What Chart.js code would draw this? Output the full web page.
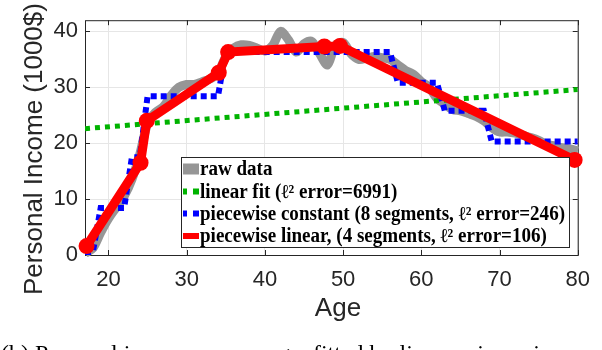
<!DOCTYPE html>
<html>
<head>
<meta charset="utf-8">
<script src="https://cdn.jsdelivr.net/npm/chart.js@4.4.0/dist/chart.umd.min.js"></script>
<style>
html, body { margin: 0; padding: 0; background: #fff; }
</style>
</head>
<body>
<canvas id="myChart" width="602" height="350"></canvas>
<script>
// donnees
const ages = [17, 18, 19, 20, 21, 22, 23, 24, 25, 26, 27, 28, 29, 30, 31, 32,
  33, 34, 35, 36, 37, 38, 39, 40, 41, 42, 43, 44, 45, 46, 47, 48,
  49, 50, 51, 52, 53, 54, 55, 56, 57, 58, 59, 60, 61, 62, 63, 64,
  65, 66, 67, 68, 69, 70, 71, 72, 73, 74, 75, 76, 77, 78, 79, 80];
const rawIncome = [0.3, 1.2, 4.0, 6.5, 8.5, 10.5, 13.5, 18.0, 23.5, 25.5, 26.5, 28.5, 30.0, 30.5, 30.5, 31.0,
  31.5, 32.5, 35.5, 37.0, 37.6, 37.5, 37.0, 36.5, 37.5, 40.0, 38.5, 36.3, 37.8, 38.2, 36.0, 34.0,
  37.5, 38.0, 36.0, 35.0, 35.2, 35.5, 35.3, 35.0, 34.0, 33.0, 32.3, 31.0, 30.0, 28.0, 27.0, 26.0,
  25.8, 25.3, 24.8, 24.0, 22.8, 22.0, 22.0, 21.8, 21.4, 21.0, 20.5, 19.8, 19.5, 19.2, 19.0, 18.6];
const constIncome = [0.5, 0.5, 8.4, 8.4, 8.4, 8.4, 17.5, 17.5, 28.4, 28.4, 28.4, 28.4, 28.4, 28.4, 28.4, 28.4,
  28.4, 28.4, 36.3, 36.3, 36.3, 36.3, 36.3, 36.3, 36.3, 36.3, 36.3, 36.3, 36.3, 36.3, 36.3, 36.3,
  36.3, 36.3, 36.3, 36.3, 36.3, 36.3, 36.3, 36.3, 30.8, 30.8, 30.8, 30.8, 30.8, 30.8, 25.8, 25.8,
  25.8, 25.8, 25.8, 25.8, 20.3, 20.3, 20.3, 20.3, 20.3, 20.3, 20.3, 20.3, 20.3, 20.3, 20.3, 20.3];
const fitAge = [17, 80];
const fitIncome = [22.6, 29.6];
const pwlAge = [17.2, 24.1, 24.9, 34.1, 35.3, 47.6, 49.6, 79.6];
const pwlIncome = [1.6, 16.5, 24.0, 32.6, 36.3, 37.3, 37.4, 17.0];

const xTicks = [20, 30, 40, 50, 60, 70, 80];
const yTicks = [0, 10, 20, 30, 40];

const legendLabels = [
  "raw data",
  "linear fit (\u2113\u00b2 error=6991)",
  "piecewise constant (8 segments, \u2113\u00b2 error=246)",
  "piecewise linear, (4 segments, \u2113\u00b2 error=106)"
];
const caption = "(b) Personal income versus age, fitted by linear, piecewise constant and piecewise linear models";

const ink = '#262626';
const toXY = (xs, ys) => xs.map((v, i) => ({x: v, y: ys[i]}));

// cadre, graduations interieures
const frame = {
  id: 'frame',
  beforeDatasetsDraw(chart) {
    const {ctx, chartArea: a, scales: {x, y}} = chart;
    ctx.save();
    ctx.strokeStyle = ink;
    ctx.lineWidth = 1;
    ctx.strokeRect(a.left + 0.5, a.top + 0.5, a.right - a.left, a.bottom - a.top);
    ctx.beginPath();
    xTicks.forEach(v => {
      const px = Math.round(x.getPixelForValue(v)) + 0.5;
      ctx.moveTo(px, a.bottom); ctx.lineTo(px, a.bottom - 5);
      ctx.moveTo(px, a.top); ctx.lineTo(px, a.top + 5);
    });
    yTicks.forEach(v => {
      const py = Math.round(y.getPixelForValue(v)) + 0.5;
      ctx.moveTo(a.left, py); ctx.lineTo(a.left + 5, py);
      ctx.moveTo(a.right, py); ctx.lineTo(a.right - 5, py);
    });
    ctx.stroke();
    ctx.restore();
  },
  afterDatasetsDraw(chart) {
    const {ctx} = chart;
    ctx.save();

    // legende
    ctx.fillStyle = '#fff';
    ctx.fillRect(181, 157, 388, 90);
    ctx.strokeStyle = ink;
    ctx.lineWidth = 1;
    ctx.strokeRect(181.5, 157.5, 388, 90);

    ctx.font = 'bold 20px "Liberation Serif", serif';
    const w = ctx.measureText(legendLabels[2]).width;
    const sx = 365 / w;
    const rows = [169, 191.5, 213.5, 236];
    rows.forEach((cy, i) => {
      if (i === 0) {
        ctx.fillStyle = '#969696';
        ctx.fillRect(183, cy - 5.5, 16, 11);
      } else if (i === 3) {
        ctx.fillStyle = '#ff0000';
        ctx.fillRect(183, cy - 3, 16, 6);
      } else {
        ctx.fillStyle = i === 1 ? '#00b300' : '#0000ff';
        ctx.fillRect(183, cy - 3, 4, 6);
        ctx.fillRect(193, cy - 3, 6, 6);
      }
      ctx.save();
      ctx.translate(200, cy + 1);
      ctx.scale(sx, 1);
      ctx.fillStyle = '#000';
      ctx.textBaseline = 'middle';
      ctx.fillText(legendLabels[i], 0, 0);
      ctx.restore();
    });

    // titres des axes
    ctx.fillStyle = ink;
    ctx.font = '26px "Liberation Sans", Arial, sans-serif';
    ctx.save();
    ctx.translate(42, 295);
    ctx.rotate(-Math.PI / 2);
    ctx.textAlign = 'left';
    ctx.textBaseline = 'alphabetic';
    ctx.fillText('Personal Income (1000$)', 0, 0);
    ctx.restore();

    ctx.font = '26px "Liberation Sans", Arial, sans-serif';
    ctx.textAlign = 'center';
    ctx.textBaseline = 'alphabetic';
    ctx.fillText('Age', 338, 316);

    // legende de la figure (coupee en bas)
    ctx.fillStyle = '#000';
    ctx.font = '24px "Liberation Serif", serif';
    ctx.textAlign = 'left';
    ctx.fillText(caption, 1, 361);
    ctx.restore();
  }
};

const config = {
  type: 'line',
  data: {
    datasets: [
      {
        label: legendLabels[3],
        data: toXY(pwlAge, pwlIncome),
        borderColor: '#ff0000',
        backgroundColor: '#ff0000',
        borderWidth: 9,
        pointRadius: 8,
        pointBorderWidth: 0,
        pointBackgroundColor: '#ff0000',
        clip: false
      },
      {
        label: legendLabels[2],
        data: toXY(ages, constIncome),
        borderColor: '#0000ff',
        borderWidth: 6,
        borderDash: [6, 4],
        pointRadius: 0
      },
      {
        label: legendLabels[1],
        data: toXY(fitAge, fitIncome),
        borderColor: '#00b300',
        borderWidth: 5,
        borderDash: [5, 5],
        pointRadius: 0
      },
      {
        label: legendLabels[0],
        data: toXY(ages, rawIncome),
        borderColor: '#969696',
        borderWidth: 9,
        tension: 0.3,
        pointRadius: 0,
        clip: false
      }
    ]
  },
  options: {
    responsive: false,
    animation: false,
    layout: { padding: { top: 16, right: 13, left: 0, bottom: 0 } },
    plugins: { legend: { display: false }, tooltip: { enabled: false } },
    scales: {
      x: {
        type: 'linear',
        min: 17,
        max: 80,
        afterBuildTicks: s => { s.ticks = xTicks.map(v => ({value: v})); },
        afterFit: s => { s.height = 95; },
        grid: { color: '#e6e6e6', drawTicks: false },
        border: { display: false },
        ticks: {
          padding: 12,
          color: ink,
          font: { family: '"Liberation Sans", Arial, sans-serif', size: 22 }
        }
      },
      y: {
        type: 'linear',
        min: 0,
        max: 42,
        afterBuildTicks: s => { s.ticks = yTicks.map(v => ({value: v})); },
        afterFit: s => { s.width = 85; },
        grid: { color: '#e6e6e6', drawTicks: false },
        border: { display: false },
        ticks: {
          padding: 7,
          color: ink,
          font: { family: '"Liberation Sans", Arial, sans-serif', size: 22 }
        }
      }
    }
  },
  plugins: [frame]
};

const ctx = document.getElementById('myChart').getContext('2d');
const myChart = new Chart(ctx, config);
</script>
</body>
</html>
